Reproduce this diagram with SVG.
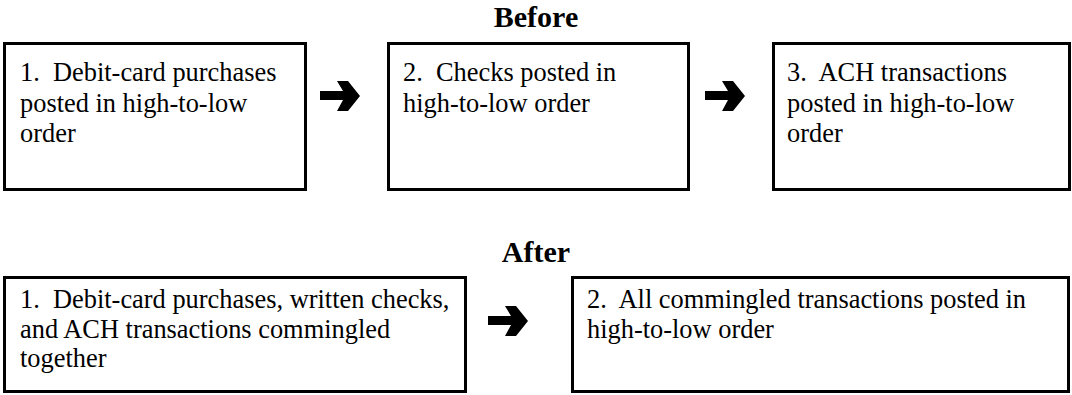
<svg xmlns="http://www.w3.org/2000/svg" width="1072" height="395" viewBox="0 0 1072 395">
  <defs>
    <style>
      .box { fill: #ffffff; stroke: #000000; stroke-width: 3; }
      .t { font-family: "Liberation Serif", "Times New Roman", serif; font-size: 26.4px; fill: #000000; white-space: pre; }
      .h { font-family: "Liberation Serif", "Times New Roman", serif; font-size: 30px; font-weight: bold; fill: #000000; text-anchor: middle; }
      .arr { fill: #000000; }
    </style>
    <path id="arrow" d="M0,11 H23 L17,1 H28 L40,16 L28,31 H17 L23,20 H0 Z"/>
  </defs>
  <rect width="1072" height="395" fill="#ffffff"/>

  <text class="h" x="536" y="27">Before</text>
  <text class="h" x="536" y="262">After</text>

  <g id="before-1">
    <rect class="box" x="4.5" y="43.5" width="301" height="146"/>
    <text class="t" xml:space="preserve"><tspan x="20" y="81">1.  Debit-card purchases</tspan><tspan x="20" y="112">posted in high-to-low</tspan><tspan x="20" y="142">order</tspan></text>
  </g>
  <g id="before-2">
    <rect class="box" x="388.5" y="43.5" width="300" height="146"/>
    <text class="t" xml:space="preserve"><tspan x="403" y="81">2.  Checks posted in</tspan><tspan x="403" y="112">high-to-low order</tspan></text>
  </g>
  <g id="before-3">
    <rect class="box" x="773.5" y="43.5" width="296" height="146"/>
    <text class="t" xml:space="preserve"><tspan x="787" y="81">3.  ACH transactions</tspan><tspan x="787" y="112">posted in high-to-low</tspan><tspan x="787" y="142">order</tspan></text>
  </g>
  <g id="after-1">
    <rect class="box" x="4.5" y="277.5" width="461" height="114"/>
    <text class="t" xml:space="preserve"><tspan x="20" y="308">1.  Debit-card purchases, written checks,</tspan><tspan x="20" y="338">and ACH transactions commingled</tspan><tspan x="20" y="367">together</tspan></text>
  </g>
  <g id="after-2">
    <rect class="box" x="572.5" y="277.5" width="496" height="114"/>
    <text class="t" xml:space="preserve"><tspan x="587" y="308">2.  All commingled transactions posted in</tspan><tspan x="587" y="338">high-to-low order</tspan></text>
  </g>

  <g id="connectors">
    <use href="#arrow" class="arr" x="320" y="80"/>
    <use href="#arrow" class="arr" x="705" y="80"/>
    <use href="#arrow" class="arr" x="488" y="305"/>
  </g>
</svg>
